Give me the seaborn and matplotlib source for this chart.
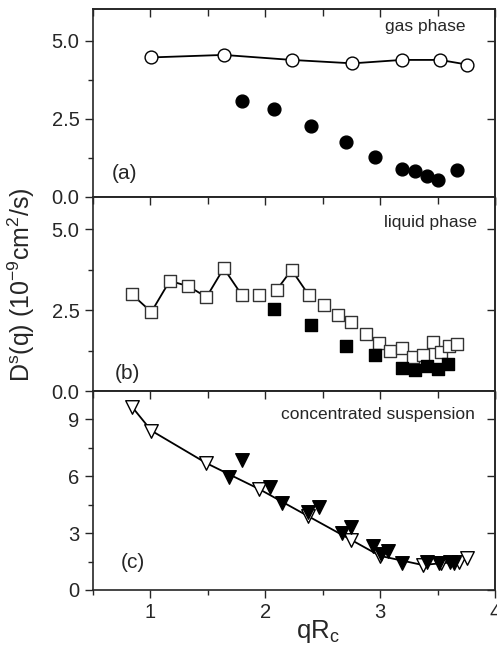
import matplotlib
matplotlib.use('Agg')
import matplotlib.pyplot as plt
import seaborn as sns
import numpy as np
from matplotlib.ticker import MultipleLocator, FixedLocator, NullFormatter

# panel (a) gas phase
gas_open_x = [1.01, 1.64, 2.23, 2.76, 3.19, 3.52, 3.76]
gas_open_y = [4.46, 4.54, 4.38, 4.27, 4.38, 4.38, 4.23]
gas_fill_x = [1.80, 2.08, 2.40, 2.70, 2.96, 3.19, 3.30, 3.41, 3.50, 3.67]
gas_fill_y = [3.08, 2.81, 2.28, 1.75, 1.28, 0.90, 0.83, 0.66, 0.55, 0.85]

# panel (b) liquid phase
liq_open_x = [0.84, 1.01, 1.17, 1.33, 1.49, 1.64, 1.80, 1.95, 2.10, 2.23, 2.38, 2.51,
              2.63, 2.75, 2.88, 2.99, 3.09, 3.19, 3.29, 3.37, 3.46, 3.53, 3.60, 3.67]
liq_open_y = [2.99, 2.44, 3.40, 3.24, 2.90, 3.79, 2.95, 2.95, 3.12, 3.74, 2.96, 2.66,
              2.35, 2.12, 1.77, 1.48, 1.25, 1.33, 1.05, 1.11, 1.50, 1.20, 1.38, 1.46]
liq_fill_x = [2.08, 2.40, 2.70, 2.96, 3.19, 3.30, 3.41, 3.50, 3.59]
liq_fill_y = [2.54, 2.04, 1.38, 1.12, 0.71, 0.65, 0.76, 0.67, 0.83]

# panel (c) concentrated suspension
con_open_x = [0.84, 1.01, 1.49, 1.95, 2.37, 2.75, 3.00, 3.37, 3.53, 3.69, 3.76]
con_open_y = [9.68, 8.41, 6.69, 5.32, 3.91, 2.64, 1.80, 1.32, 1.41, 1.49, 1.67]
con_fill_x = [1.69, 1.80, 2.04, 2.15, 2.37, 2.47, 2.67, 2.75, 2.94, 3.01, 3.07,
              3.19, 3.41, 3.51, 3.61, 3.64]
con_fill_y = [5.95, 6.87, 5.42, 4.58, 4.14, 4.37, 3.03, 3.34, 2.32, 1.90, 2.08,
              1.41, 1.46, 1.44, 1.49, 1.44]

sns.set_style('ticks')
plt.rcParams['font.family'] = ['Liberation Sans', 'DejaVu Sans']
plt.rcParams['mathtext.fontset'] = 'custom'
plt.rcParams['mathtext.rm'] = 'Liberation Sans'
plt.rcParams['mathtext.it'] = 'Liberation Sans'

fig, axes = plt.subplots(3, 1, figsize=(4.97, 6.52), dpi=100, sharex=True,
                         gridspec_kw={'height_ratios': [187.4, 194.3, 199], 'hspace': 0})
fig.subplots_adjust(left=0.1865, right=0.996, top=0.9857, bottom=0.0951)
ax1, ax2, ax3 = axes

lw = 1.3
ms_c, ms_s, ms_t = 85, 70, 95

# (a)
sns.lineplot(x=gas_open_x, y=gas_open_y, ax=ax1, color='k', lw=lw, sort=False, estimator=None, zorder=2)
sns.scatterplot(x=gas_open_x, y=gas_open_y, ax=ax1, marker='o', s=ms_c, facecolor='white',
                edgecolor='k', linewidth=1.0, zorder=3)
sns.scatterplot(x=gas_fill_x, y=gas_fill_y, ax=ax1, marker='o', s=ms_c, color='k',
                edgecolor='k', linewidth=1.0, zorder=3)

# (b)
sns.lineplot(x=liq_open_x[:7], y=liq_open_y[:7], ax=ax2, color='k', lw=lw, sort=False, estimator=None, zorder=2)
sns.lineplot(x=liq_open_x[8:11], y=liq_open_y[8:11], ax=ax2, color='k', lw=lw, sort=False, estimator=None, zorder=2)
sns.scatterplot(x=liq_open_x, y=liq_open_y, ax=ax2, marker='s', s=ms_s, facecolor='white',
                edgecolor='#333333', linewidth=1.0, zorder=3)
sns.scatterplot(x=liq_fill_x, y=liq_fill_y, ax=ax2, marker='s', s=ms_s, color='k',
                edgecolor='k', linewidth=1.0, zorder=4)

# (c)
sns.lineplot(x=con_open_x, y=con_open_y, ax=ax3, color='k', lw=lw, sort=False, estimator=None, zorder=2)
sns.scatterplot(x=con_open_x, y=con_open_y, ax=ax3, marker='v', s=ms_t, facecolor='white',
                edgecolor='k', linewidth=1.0, zorder=3)
sns.scatterplot(x=con_fill_x, y=con_fill_y, ax=ax3, marker='v', s=ms_t, color='k',
                edgecolor='k', linewidth=1.0, zorder=4)

ax1.set_ylim(0, 6)
ax2.set_ylim(0, 6)
ax3.set_ylim(0, 10.5)
ax3.set_xlim(0.5, 4.0)

yticks = {ax1: ([0, 2.5, 5.0], [1.25, 3.75]), ax2: ([0, 2.5, 5.0], [1.25, 3.75]),
          ax3: ([0, 3, 6, 9], [1.5, 4.5, 7.5])}

for ax in axes:
    major, minor = yticks[ax]
    ax.yaxis.set_major_locator(FixedLocator(major))
    ax.yaxis.set_minor_locator(FixedLocator(minor))
    ax.xaxis.set_major_locator(FixedLocator([1, 2, 3, 4]))
    ax.xaxis.set_minor_locator(MultipleLocator(0.5))
    for sp in ax.spines.values():
        sp.set_visible(True)
        sp.set_linewidth(1.2)
    ax.tick_params(which='both', direction='out', width=1.0, top=False, right=False)
    ax.tick_params(which='major', length=6, labelsize=14.5)
    ax.tick_params(which='minor', length=3.5)
    ax.set_xlabel('')
    ax.set_ylabel('')
    ax.grid(False)
    # inward ticks on top and right
    top = ax.secondary_xaxis('top')
    top.xaxis.set_major_locator(FixedLocator([1, 2, 3, 4]))
    top.xaxis.set_minor_locator(MultipleLocator(0.5))
    top.xaxis.set_major_formatter(NullFormatter())
    top.tick_params(which='both', direction='in', width=1.0)
    top.tick_params(which='major', length=6)
    top.tick_params(which='minor', length=5)
    top.spines['top'].set_linewidth(1.2)
    right = ax.secondary_yaxis('right')
    right.yaxis.set_major_locator(FixedLocator(major))
    right.yaxis.set_minor_locator(FixedLocator([]))
    right.yaxis.set_major_formatter(NullFormatter())
    right.tick_params(which='both', direction='in', width=1.0, length=6)
    right.spines['right'].set_linewidth(1.2)

ax1.yaxis.set_major_formatter(matplotlib.ticker.FixedFormatter(['0.0', '2.5', '5.0']))
ax2.yaxis.set_major_formatter(matplotlib.ticker.FixedFormatter(['0.0', '2.5', '5.0']))

ax1.text(0.927, 0.906, 'gas phase', transform=ax1.transAxes, ha='right', va='center', fontsize=12.5)
ax2.text(0.955, 0.866, 'liquid phase', transform=ax2.transAxes, ha='right', va='center', fontsize=12.5)
ax3.text(0.95, 0.88, 'concentrated suspension', transform=ax3.transAxes, ha='right', va='center', fontsize=12.5)
ax1.text(0.047, 0.125, '(a)', transform=ax1.transAxes, ha='left', va='center', fontsize=15)
ax2.text(0.055, 0.091, '(b)', transform=ax2.transAxes, ha='left', va='center', fontsize=15)
ax3.text(0.07, 0.137, '(c)', transform=ax3.transAxes, ha='left', va='center', fontsize=15)

ax2.set_ylabel(r'D$^{\rm s}$(q) (10$^{-9}$cm$^{2}$/s)', fontsize=18)
ax2.yaxis.set_label_coords(-0.138, 0.545)
ax3.set_xlabel(r'qR$_{\rm c}$', fontsize=18.5)
ax3.xaxis.set_label_coords(0.56, -0.14)

fig.savefig('out.png', dpi=100)
